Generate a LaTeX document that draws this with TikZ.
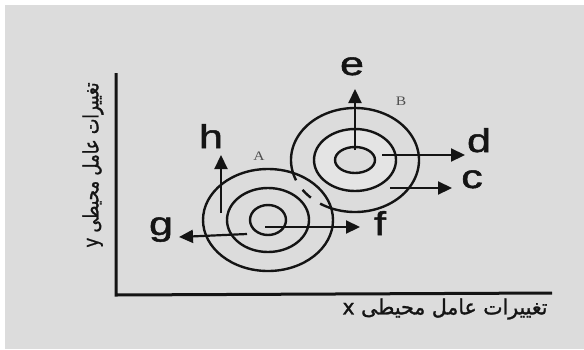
\documentclass[tikz,border=0pt]{standalone}
\usepackage{fontspec}
\usepackage{graphicx}
\setmainfont{Liberation Sans}
\newfontfamily\lblfont[FakeBold=1.5]{Liberation Sans}
\newfontfamily\serifA{Liberation Serif}
\newfontfamily\arabicfont[Script=Arabic,FakeBold=1.2]{DejaVu Sans}
\TeXXeTstate=1
\usetikzlibrary{arrows.meta}
\definecolor{bg}{HTML}{DCDCDC}
\definecolor{ink}{HTML}{141414}
\definecolor{ringfill}{HTML}{E4E4E4}
\begin{document}
\begin{tikzpicture}[x=1pt,y=-1pt,
  ring/.style={draw=ink,line width=2.4pt},
  vec/.style={draw=ink,line width=2.2pt,-{Triangle[length=14pt,width=13pt]}},
  lbl/.style={font=\lblfont\fontsize{33}{33}\selectfont, xscale=1.3, anchor=base, inner sep=0pt, text=ink},
  tag/.style={font=\serifA\fontsize{13}{13}\selectfont, xscale=1.2, anchor=base, inner sep=0pt, text=ink!75},
  axisline/.style={draw=ink,line width=3pt,line join=miter},
  fa/.style={inner sep=0pt, text=ink}]
\fill[white] (0,0) rectangle (584,349);
\fill[bg] (5,5) rectangle (584,349);
\useasboundingbox (0,0) rectangle (584,349);
% axes
\coordinate (ytop) at (116,73);
\coordinate (org) at (116,295);
\coordinate (xend) at (552,293);
\draw[axisline] (ytop) -- (org) -- (xend);
% axis labels
\node[fa] (xl) at (445,309) {\resizebox{205pt}{16pt}{\arabicfont\fontsize{18}{18}\selectfont\beginR تغییرات عامل محیطی x\endR}};
\node[fa, rotate=90] (yl) at (93,165) {\resizebox{165pt}{16pt}{\arabicfont\fontsize{18}{18}\selectfont\beginR تغییرات عامل محیطی y\endR}};
% circles B
\coordinate (Bc) at (355,160);
\fill[ringfill, even odd rule] (Bc) ellipse [x radius=41pt, y radius=31pt] (Bc) ellipse [x radius=20pt, y radius=13pt];
\draw[ring] (Bc) ellipse [x radius=20pt, y radius=13pt];
\draw[ring] (Bc) ellipse [x radius=41pt, y radius=31pt];
\draw[ring] plot[domain=157:483, samples=160, smooth] ({355+64*cos(\x)},{160+52*sin(\x)});
\draw[ring] plot[domain=133.6:145, samples=10, smooth] ({355+64*cos(\x)},{160+52*sin(\x)});
% circles A
\coordinate (Ac) at (268,220);
\draw[ring] (Ac) ellipse [x radius=18pt, y radius=15pt];
\draw[ring] (Ac) ellipse [x radius=41pt, y radius=32pt];
\draw[ring] (Ac) ellipse [x radius=65pt, y radius=51pt];
% arrows
\coordinate (e0) at (355,150); \coordinate (e1) at (355,89);
\coordinate (d0) at (382,155); \coordinate (d1) at (465,155);
\coordinate (c0) at (390,188); \coordinate (c1) at (452,188);
\coordinate (h0) at (221,213); \coordinate (h1) at (221,155);
\coordinate (g0) at (247,234); \coordinate (g1) at (179,237);
\coordinate (f0) at (265,227); \coordinate (f1) at (360,227);
\draw[vec] (e0) -- (e1);
\draw[vec] (d0) -- (d1);
\draw[vec] (c0) -- (c1);
\draw[vec] (h0) -- (h1);
\draw[vec] (g0) -- (g1);
\draw[vec] (f0) -- (f1);
% labels
\node[lbl] (le) at (352,75) {e};
\node[lbl] (ld) at (479,152) {d};
\node[lbl] (lc) at (472,188) {c};
\node[lbl] (lh) at (211,148) {h};
\node[lbl] (lg) at (161,235) {g};
\node[lbl] (lf) at (380,235) {f};
\node[tag] (tA) at (259,160) {A};
\node[tag] (tB) at (401,105) {B};
\end{tikzpicture}
\end{document}
